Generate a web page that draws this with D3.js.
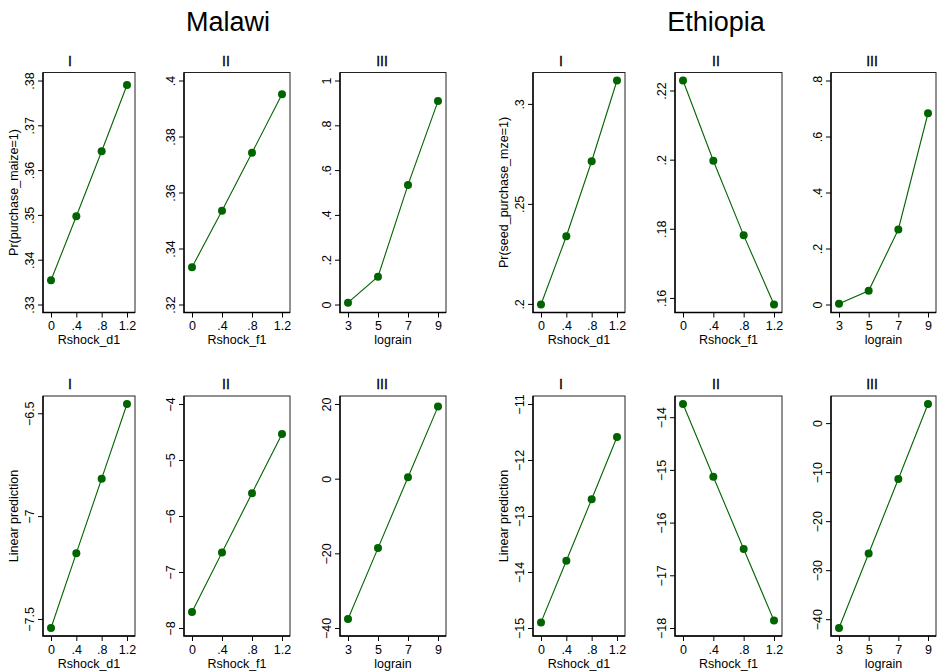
<!DOCTYPE html>
<html>
<head>
<meta charset="utf-8">
<script src="https://cdn.jsdelivr.net/npm/d3@7"></script>
<style>
  body { margin: 0; background: #fff; }
  svg { display: block; font-family: "Liberation Sans", Arial, sans-serif; }
  .tick text { font-size: 12.5px; fill: #000; font-family: "Liberation Sans", Arial, sans-serif; }
  .tick line { stroke: #000; }
  .axis-title { font-size: 12.5px; fill: #000; }
  .subtitle { font-size: 14px; text-anchor: middle; fill: #000; stroke: #000; stroke-width: 0.3px; }
  .country { font-size: 27px; text-anchor: middle; fill: #000; }
</style>
</head>
<body>
<div id="chart"></div>
<script>
// x values
const rshockX = [0, 0.4, 0.8, 1.2];
const lograinX = [3, 5, 7, 9];

// Malawi, predicted probability
const mwProbD1 = [0.3354, 0.3497, 0.3642, 0.379];
const mwProbF1 = [0.3333, 0.3535, 0.3742, 0.3951];
const mwProbRain = [0.008, 0.124, 0.534, 0.908];
// Ethiopia, predicted probability
const etProbD1 = [0.1997, 0.2338, 0.2713, 0.3117];
const etProbF1 = [0.2229, 0.1997, 0.1781, 0.1581];
const etProbRain = [0.003, 0.049, 0.268, 0.683];
// Malawi, linear prediction
const mwLinD1 = [-7.544, -7.18, -6.818, -6.455];
const mwLinF1 = [-7.715, -6.652, -5.594, -4.536];
const mwLinRain = [-37.6, -18.6, 0.4, 19.3];
// Ethiopia, linear prediction
const etLinD1 = [-14.9, -13.8, -12.7, -11.59];
const etLinF1 = [-13.75, -15.13, -16.5, -17.86];
const etLinRain = [-41.8, -26.6, -11.4, 3.9];

// y tick values per panel
const yTicksTop = [
  [0.33, 0.34, 0.35, 0.36, 0.37, 0.38],
  [0.32, 0.34, 0.36, 0.38, 0.4],
  [0, 0.2, 0.4, 0.6, 0.8, 1],
  [0.2, 0.25, 0.3],
  [0.16, 0.18, 0.2, 0.22],
  [0, 0.2, 0.4, 0.6, 0.8],
];
const yTicksBottom = [
  [-7.5, -7, -6.5],
  [-8, -7, -6, -5, -4],
  [-40, -20, 0, 20],
  [-15, -14, -13, -12, -11],
  [-18, -17, -16, -15, -14],
  [-40, -30, -20, -10, 0],
];

const subtitles = ["I", "II", "III", "I", "II", "III"];
const xTitles = ["Rshock_d1", "Rshock_f1", "lograin", "Rshock_d1", "Rshock_f1", "lograin"];
const yTitlesTop = ["Pr(purchase_maize=1)", "Pr(seed_purchase_mze=1)"];
const yTitleBottom = "Linear prediction";
const countries = ["Malawi", "Ethiopia"];

// layout
const width = 937;
const height = 671;
const colLeft = [43, 184, 340, 533, 675, 831];
const colRight = [135, 290, 446, 625, 782, 936];
const rowTop = [72.5, 396];
const rowBottom = [312.5, 636];
const subtitleX = [70, 226, 382, 561, 716, 872];
const countryX = [228, 716];
const inset = 8;
const green = "#006400";

const valuesTop = [mwProbD1, mwProbF1, mwProbRain, etProbD1, etProbF1, etProbRain];
const valuesBottom = [mwLinD1, mwLinF1, mwLinRain, etLinD1, etLinF1, etLinRain];

const panels = [];
for (let c = 0; c < 6; c++) {
  const xs = c % 3 === 2 ? lograinX : rshockX;
  panels.push({
    row: 0, col: c, xs, ys: valuesTop[c], yTicks: yTicksTop[c],
    yTitle: c % 3 === 0 ? yTitlesTop[c / 3] : null,
  });
  panels.push({
    row: 1, col: c, xs, ys: valuesBottom[c], yTicks: yTicksBottom[c],
    yTitle: c % 3 === 0 ? yTitleBottom : null,
  });
}

// Stata style: drop the leading zero
const fmt = (v) => d3.format("~g")(+v.toFixed(4)).replace(/^(-?)0\./, "$1.");

const svg = d3
  .select("#chart")
  .append("svg")
  .attr("width", width)
  .attr("height", height);

svg
  .selectAll(".country")
  .data(countries)
  .enter()
  .append("text")
  .attr("class", "country")
  .attr("x", (d, i) => countryX[i])
  .attr("y", 31)
  .text((d) => d);

panels.forEach((p) => {
  const left = colLeft[p.col];
  const right = colRight[p.col];
  const top = rowTop[p.row];
  const bottom = rowBottom[p.row];

  const x = d3
    .scaleLinear()
    .domain(d3.extent(p.xs))
    .range([left + inset, right - inset]);
  const y = d3
    .scaleLinear()
    .domain(d3.extent(p.ys.concat(p.yTicks)))
    .range([bottom - inset, top + inset]);

  const g = svg.append("g");

  g.append("rect")
    .attr("x", left)
    .attr("y", top)
    .attr("width", right - left)
    .attr("height", bottom - top)
    .attr("fill", "none")
    .attr("stroke", "#222")
    .attr("stroke-width", 1);

  const yAxis = g
    .append("g")
    .attr("transform", `translate(${left},0)`)
    .call(d3.axisLeft(y).tickValues(p.yTicks).tickSize(5).tickFormat(fmt));
  yAxis.select(".domain").remove();
  yAxis
    .selectAll(".tick text")
    .attr("x", null)
    .attr("dy", null)
    .attr("text-anchor", "middle")
    .attr("transform", "translate(-9.5,0) rotate(-90)");

  const xAxis = g
    .append("g")
    .attr("transform", `translate(0,${bottom})`)
    .call(d3.axisBottom(x).tickValues(p.xs).tickSize(5).tickFormat(fmt));
  xAxis.select(".domain").remove();
  xAxis.selectAll(".tick text").attr("y", 17.5).attr("dy", null);

  // axis lines on left and bottom
  g.append("path")
    .attr("d", `M${left},${top}V${bottom}H${right}`)
    .attr("fill", "none")
    .attr("stroke", "#000")
    .attr("stroke-width", 1.4);

  g.append("text")
    .attr("class", "axis-title")
    .attr("x", (left + right) / 2)
    .attr("y", bottom + 31.5)
    .attr("text-anchor", "middle")
    .text(xTitles[p.col]);

  if (p.yTitle) {
    g.append("text")
      .attr("class", "axis-title")
      .attr("text-anchor", "middle")
      .attr("transform", `translate(${left - 25},${(top + bottom) / 2}) rotate(-90)`)
      .text(p.yTitle);
  }

  g.append("text")
    .attr("class", "subtitle")
    .attr("x", subtitleX[p.col])
    .attr("y", top - 7)
    .text(subtitles[p.col]);

  const pts = p.xs.map((xv, i) => [xv, p.ys[i]]);

  g.append("path")
    .datum(pts)
    .attr("fill", "none")
    .attr("stroke", green)
    .attr("stroke-width", 1.1)
    .attr("d", d3.line().x((d) => x(d[0])).y((d) => y(d[1])));

  g.selectAll(".dot")
    .data(pts)
    .enter()
    .append("circle")
    .attr("class", "dot")
    .attr("cx", (d) => x(d[0]))
    .attr("cy", (d) => y(d[1]))
    .attr("r", 4)
    .attr("fill", green);
});
</script>
</body>
</html>
